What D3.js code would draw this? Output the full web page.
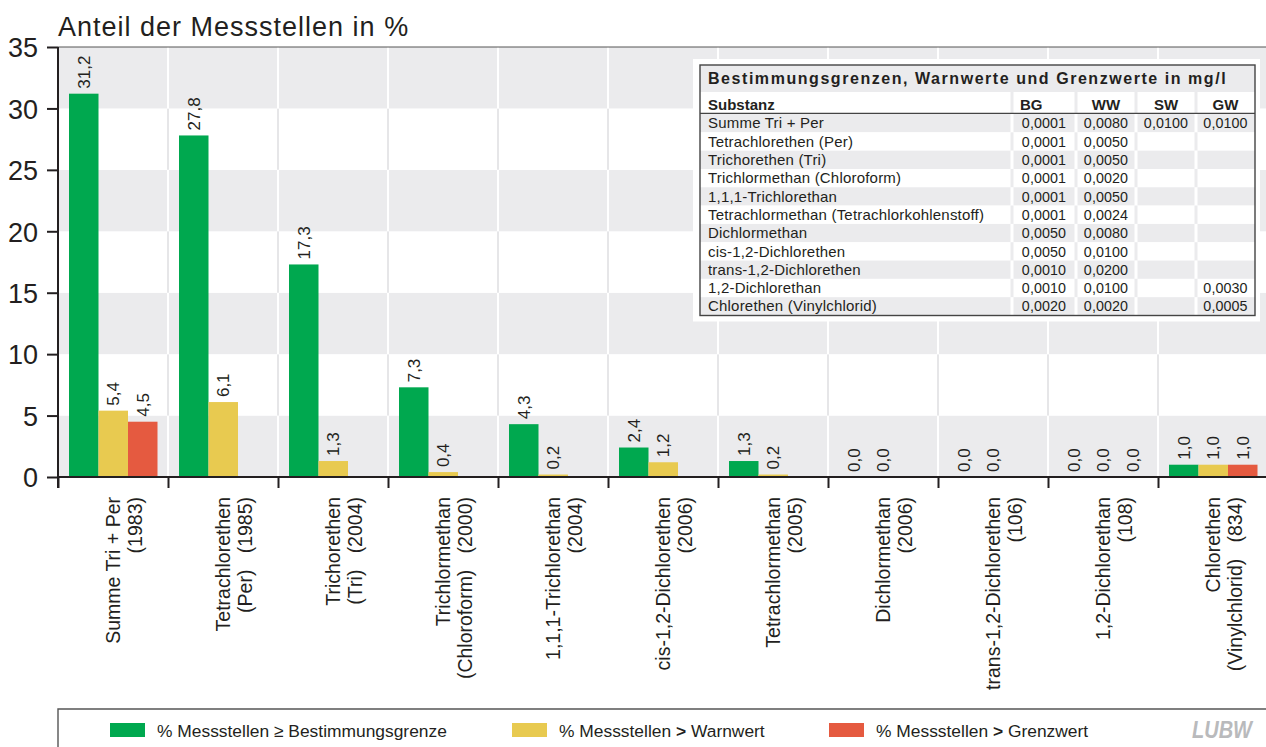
<!DOCTYPE html>
<html>
<head>
<meta charset="utf-8">
<script src="https://cdn.jsdelivr.net/npm/d3@7"></script>
<style>
  html, body { margin: 0; padding: 0; background: #fff; }
  svg { display: block; font-family: "Liberation Sans", Arial, Helvetica, sans-serif; }
  text { fill: #231f20; }
  .pre { white-space: pre; }
</style>
</head>
<body>
<svg id="chart" width="1266" height="747"></svg>
<script>
// ---- Chart data -------------------------------------------------------
const categories = [
  "Summe Tri + Per", "Tetrachlorethen", "Trichorethen", "Trichlormethan",
  "1,1,1-Trichlorethan", "cis-1,2-Dichlorethen", "Tetrachlormethan",
  "Dichlormethan", "trans-1,2-Dichlorethen", "1,2-Dichlorethan", "Chlorethen"
];
const categoryNotes = [
  "(1983)", "(Per)   (1985)", "(Tri)   (2004)", "(Chloroform)   (2000)",
  "(2004)", "(2006)", "(2005)", "(2006)", "(106)", "(108)", "(Vinylchlorid)   (834)"
];
const seriesNames = [
  "% Messstellen ≥ Bestimmungsgrenze",
  "% Messstellen > Warnwert",
  "% Messstellen > Grenzwert"
];
const aboveBG = [31.2, 27.8, 17.3, 7.3, 4.3, 2.4, 1.3, 0.0, 0.0, 0.0, 1.0];
const aboveWW = [5.4, 6.1, 1.3, 0.4, 0.2, 1.2, 0.2, 0.0, 0.0, 0.0, 1.0];
const aboveGW = [4.5, null, null, null, null, null, null, null, null, 0.0, 1.0];
const seriesColors = ["#00a84f", "#e8ca50", "#e55a40"];
const yTicks = [0, 5, 10, 15, 20, 25, 30, 35];

// ---- Limit values table (mg/l) ---------------------------------------
const tableTitle = "Bestimmungsgrenzen, Warnwerte und Grenzwerte in mg/l";
const tableHeader = ["Substanz", "BG", "WW", "SW", "GW"];
const substances = [
  "Summe Tri + Per", "Tetrachlorethen (Per)", "Trichorethen (Tri)",
  "Trichlormethan (Chloroform)", "1,1,1-Trichlorethan",
  "Tetrachlormethan (Tetrachlorkohlenstoff)", "Dichlormethan",
  "cis-1,2-Dichlorethen", "trans-1,2-Dichlorethen", "1,2-Dichlorethan",
  "Chlorethen (Vinylchlorid)"
];
const colBG = ["0,0001","0,0001","0,0001","0,0001","0,0001","0,0001","0,0050","0,0050","0,0010","0,0010","0,0020"];
const colWW = ["0,0080","0,0050","0,0050","0,0020","0,0050","0,0024","0,0080","0,0100","0,0200","0,0100","0,0020"];
const colSW = ["0,0100","","","","","","","","","",""];
const colGW = ["0,0100","","","","","","","","","0,0030","0,0005"];

// ---- Layout ------------------------------------------------------------
const svg = d3.select("#chart");
const plotLeft = 58, plotTop = 47, plotBottom = 477;
const catWidth = 110;
const plotRight = plotLeft + catWidth * categories.length;
const bandGray = "#ebebed", ink = "#231f20";

const x0 = d3.scaleBand().domain(d3.range(categories.length)).range([plotLeft, plotRight]);
const x1 = d3.scaleBand().domain(d3.range(3)).range([11, 99.5]);
const xEdge = d3.scaleLinear().domain([0, categories.length]).range([plotLeft, plotRight]);
const y = d3.scaleLinear().domain([0, 35]).range([plotBottom, plotTop]);

const locale = d3.formatLocale({decimal: ",", thousands: ".", grouping: [3], currency: ["", " €"]});
const fmt = locale.format(".1f");

// Alternating horizontal bands with category separators
const bands = d3.range(0, 35, 5);
const gBack = svg.append("g");
bands.forEach((b, k) => {
  const gray = k % 2 === 0;
  gBack.append("rect")
    .attr("x", plotLeft).attr("y", y(b + 5))
    .attr("width", plotRight - plotLeft).attr("height", y(b) - y(b + 5))
    .attr("fill", gray ? bandGray : "#fff");
  gBack.selectAll(null).data(d3.range(1, categories.length)).join("line")
    .attr("x1", d => xEdge(d)).attr("x2", d => xEdge(d))
    .attr("y1", y(b + 5)).attr("y2", y(b))
    .attr("stroke", gray ? "#fff" : "#e6e6e8").attr("stroke-width", 2);
});
svg.append("line").attr("x1", plotLeft).attr("x2", 1266).attr("y1", plotTop).attr("y2", plotTop)
  .attr("stroke", "#555").attr("stroke-width", 1);

// Bars
const series = [aboveBG, aboveWW, aboveGW];
const barData = [];
series.forEach((vals, s) => vals.forEach((v, i) => { if (v !== null) barData.push({s, i, v}); }));

svg.append("g").selectAll("rect").data(barData).join("rect")
  .attr("x", d => x0(d.i) + x1(d.s))
  .attr("width", x1.bandwidth())
  .attr("y", d => y(d.v))
  .attr("height", d => y(0) - y(d.v))
  .attr("fill", d => seriesColors[d.s]);

// Value labels
svg.append("g").selectAll("text").data(barData).join("text")
  .attr("transform", d => `translate(${x0(d.i) + x1(d.s) + x1.bandwidth() / 2 + 6},${y(d.v) - 5}) rotate(-90)`)
  .attr("font-size", 17)
  .text(d => fmt(d.v));

// Y axis
const yAxis = svg.append("g").attr("transform", `translate(${plotLeft},0)`)
  .call(d3.axisLeft(y).tickValues(yTicks).tickSize(11).tickPadding(9).tickFormat(d3.format("d")));
yAxis.attr("font-family", null).attr("font-size", null);
yAxis.select(".domain").attr("stroke", ink).attr("stroke-width", 2).attr("d", `M0,${plotTop}V${plotBottom + 11}`);
yAxis.selectAll(".tick line").attr("stroke", ink).attr("stroke-width", 2);
yAxis.selectAll(".tick text").attr("font-size", 27).style("fill", ink).attr("dy", "0.36em");

// X axis with separators between categories
const xAxis = svg.append("g").attr("transform", `translate(0,${plotBottom})`)
  .call(d3.axisBottom(xEdge).tickValues(d3.range(0, categories.length + 1)).tickSize(11).tickFormat(""));
xAxis.select(".domain").attr("stroke", ink).attr("stroke-width", 2).attr("d", `M${plotLeft},0H1266`);
xAxis.selectAll(".tick line").attr("stroke", ink).attr("stroke-width", 2);

// Category labels (two lines, rotated)
const catLabels = svg.append("g").selectAll("text").data(categories).join("text")
  .attr("class", "pre")
  .attr("transform", (d, i) => `translate(${x0(i) + catWidth / 2 + 7},497) rotate(-90)`)
  .attr("text-anchor", "end")
  .attr("font-size", 19.5);
catLabels.append("tspan").attr("x", 0).text(d => d);
catLabels.append("tspan").attr("x", 0).attr("dy", 21.5).text((d, i) => categoryNotes[i]);

// Title
svg.append("text").attr("x", plotLeft).attr("y", 36)
  .attr("font-size", 27).attr("letter-spacing", 1)
  .text("Anteil der Messstellen in %");

// ---- Limit values table ----------------------------------------------
const tb = {x: 700, y: 65, w: 555, titleH: 27, headH: 21, rowsTop: 114, rowsBottom: 315.5};
const colEdges = [700, 1012, 1076, 1136, 1196, 1255];
const colCenter = i => (colEdges[i] + colEdges[i + 1]) / 2;
const tg = svg.append("g");
tg.append("rect").attr("x", tb.x - 7).attr("y", tb.y - 6)
  .attr("width", tb.w + 12).attr("height", tb.rowsBottom - tb.y + 12).attr("fill", "#fff");
tg.append("rect").attr("x", tb.x).attr("y", tb.y).attr("width", tb.w).attr("height", tb.titleH)
  .attr("fill", bandGray);

const rowScale = d3.scaleBand().domain(d3.range(substances.length)).range([tb.rowsTop, tb.rowsBottom]);

function drawRow(yTop, h, gray) {
  tg.append("rect").attr("x", tb.x).attr("y", yTop).attr("width", tb.w).attr("height", h)
    .attr("fill", gray ? bandGray : "#fff");
  colEdges.slice(1, -1).forEach(cx => {
    tg.append("rect").attr("x", cx - 1.5).attr("y", yTop).attr("width", 3).attr("height", h)
      .attr("fill", gray ? "#fff" : bandGray);
  });
}
drawRow(tb.y + tb.titleH, tb.headH, false);
substances.forEach((s, i) => drawRow(rowScale(i), rowScale.bandwidth(), i % 2 === 0));

tg.append("text").attr("x", 708).attr("y", 83.5)
  .attr("font-size", 16).attr("font-weight", "bold").attr("letter-spacing", 1.55)
  .text(tableTitle);

tableHeader.forEach((h, i) => {
  tg.append("text")
    .attr("x", i === 0 ? 708 : (i === 1 ? 1020 : colCenter(i)))
    .attr("y", 109.5)
    .attr("text-anchor", i <= 1 ? "start" : "middle")
    .attr("font-size", 15).attr("font-weight", "bold")
    .text(h);
});
tg.append("line").attr("x1", tb.x).attr("x2", tb.x + tb.w).attr("y1", 113.3).attr("y2", 113.3)
  .attr("stroke", "#444").attr("stroke-width", 1.3);

const tableCols = [substances, colBG, colWW, colSW, colGW];
tableCols.forEach((col, c) => {
  tg.append("g").selectAll("text").data(col).join("text")
    .attr("x", c === 0 ? 708 : colCenter(c))
    .attr("y", (d, i) => rowScale(i) + 14.3)
    .attr("text-anchor", c === 0 ? "start" : "middle")
    .attr("font-size", c === 0 ? 15 : 14.3)
    .attr("letter-spacing", c === 0 ? 0.2 : 0.1)
    .text(d => d);
});
tg.append("rect").attr("x", tb.x).attr("y", tb.y).attr("width", tb.w).attr("height", tb.rowsBottom - tb.y)
  .attr("fill", "none").attr("stroke", "#444").attr("stroke-width", 1.4);

// ---- Legend ------------------------------------------------------------
svg.append("path").attr("d", `M${plotLeft},747V709H1266`)
  .attr("fill", "none").attr("stroke", "#555").attr("stroke-width", 1.4);
const legendX = [110, 512, 829];
const lg = svg.append("g").selectAll("g").data(seriesNames).join("g")
  .attr("transform", (d, i) => `translate(${legendX[i]},0)`);
lg.append("rect").attr("x", 0).attr("y", 723).attr("width", 35).attr("height", 14)
  .attr("fill", (d, i) => seriesColors[i]);
const lt = lg.append("text").attr("x", 47).attr("y", 736.5).attr("font-size", 17.4);
lt.each(function(d) {
  const t = d3.select(this);
  const m = d.match(/^(.*?)([≥>])(.*)$/);
  t.append("tspan").text(m[1]);
  t.append("tspan").attr("font-weight", m[2] === ">" ? "bold" : null).text(m[2]);
  t.append("tspan").text(m[3]);
});

// Publisher mark
svg.append("text").attr("x", 1192).attr("y", 738)
  .attr("font-size", 24).attr("font-weight", "bold").attr("font-style", "italic")
  .attr("textLength", 60).attr("lengthAdjust", "spacingAndGlyphs")
  .style("fill", "#b9babc")
  .text("LUBW");
</script>
</body>
</html>
